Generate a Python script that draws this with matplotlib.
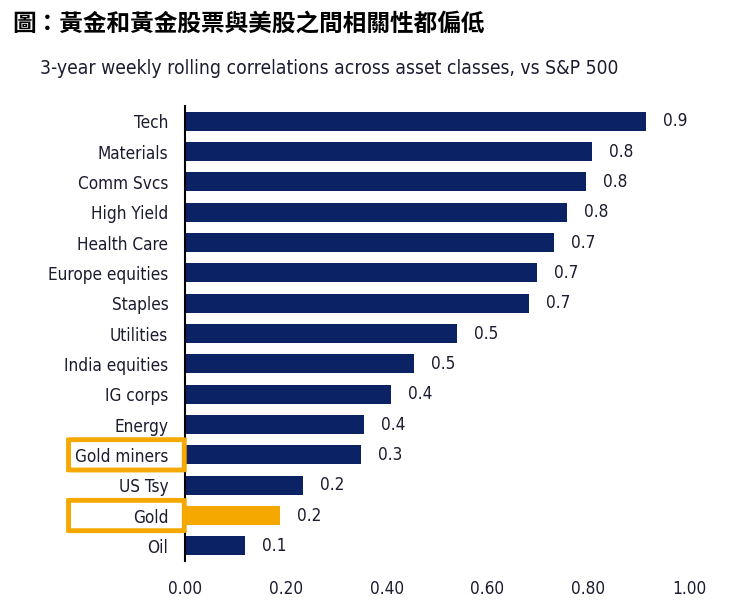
import matplotlib.pyplot as plt
from matplotlib import font_manager as fm
from matplotlib.patches import FancyBboxPatch
from matplotlib.transforms import blended_transform_factory

# look for a narrow face of regular weight
wmap = {'thin': 100, 'extra light': 200, 'ultralight': 200, 'light': 300, 'normal': 400,
        'regular': 400, 'book': 400, 'medium': 500, 'semibold': 600, 'demibold': 600,
        'bold': 700, 'extra bold': 800, 'heavy': 900, 'black': 900}


def wnum(w):
    return w if isinstance(w, (int, float)) else wmap.get(str(w).lower(), 400)


faces = [f for f in fm.fontManager.ttflist
         if ('Condensed' in f.name or 'Narrow' in f.name
             or 'condensed' in str(f.stretch)) and f.style == 'normal'
         and 'Semi' not in f.name and 'semi' not in str(f.stretch)]
faces = [f for f in faces if 300 <= wnum(f.weight) <= 500] or faces
if faces:
    face = min(faces, key=lambda f: abs(wnum(f.weight) - 350))
    plt.rcParams['font.family'] = [face.name, 'DejaVu Sans']
    plt.rcParams['font.weight'] = wnum(face.weight)
    plt.rcParams['font.stretch'] = face.stretch
    k = 0.88
else:
    plt.rcParams['font.family'] = ['Roboto', 'DejaVu Sans']
    k = 0.8

# data
categories = ['Tech', 'Materials', 'Comm Svcs', 'High Yield', 'Health Care',
              'Europe equities', 'Staples', 'Utilities', 'India equities',
              'IG corps', 'Energy', 'Gold miners', 'US Tsy', 'Gold', 'Oil']
values = [0.915, 0.808, 0.796, 0.758, 0.732, 0.698, 0.683, 0.540, 0.454,
          0.409, 0.355, 0.349, 0.234, 0.188, 0.119]
highlight = ['Gold miners', 'Gold']
xticks = [0.0, 0.2, 0.4, 0.6, 0.8, 1.0]

navy = '#0b2265'
gold = '#f5a800'
txt = '#1c1c30'

fig = plt.figure(figsize=(7.37, 6.12), dpi=100)
ax = fig.add_axes([0.251, 0.0833, 0.6839, 0.7435])

ypos = list(range(len(categories)))
colors = [gold if c == 'Gold' else navy for c in categories]
ax.barh(ypos, values, height=0.63, color=colors)

fs = 14 * k
for y, v in zip(ypos, values):
    ax.text(v + 0.034, y, f'{v:.1f}', va='center', ha='left', fontsize=fs, color=txt)

ax.set_ylim(14.5, -0.5)
ax.set_xlim(0, 1.0)
ax.set_yticks(ypos)
ax.set_yticklabels(categories, fontsize=fs, color=txt)
ax.set_xticks(xticks)
ax.set_xticklabels([f'{t:.2f}' for t in xticks], fontsize=fs, color=txt)
ax.tick_params(axis='y', length=0, pad=12)
ax.tick_params(axis='x', length=0, pad=14)
for s in ['top', 'right', 'bottom']:
    ax.spines[s].set_visible(False)
ax.spines['left'].set_color('black')
ax.spines['left'].set_linewidth(1.5)

# orange boxes around highlighted labels
tr = blended_transform_factory(fig.transFigure, ax.transData)
for name in highlight:
    i = categories.index(name)
    box = FancyBboxPatch((0.093, i - 0.5), 0.157, 1.0, transform=tr,
                         boxstyle='round,pad=0,rounding_size=0.006',
                         fill=False, edgecolor=gold, linewidth=3.5, clip_on=False)
    fig.add_artist(box)

fig.text(0.016, 0.962, '圖：黃金和黃金股票與美股之間相關性都偏低', fontsize=17,
         fontweight='bold', family=['Noto Sans CJK TC', 'DejaVu Sans'],
         color='black', va='center', ha='left')
fig.text(0.054, 0.888, '3-year weekly rolling correlations across asset classes, vs S&P 500',
         fontsize=15.8 * k, color=txt, va='center', ha='left')

fig.savefig('out.png', dpi=100)
